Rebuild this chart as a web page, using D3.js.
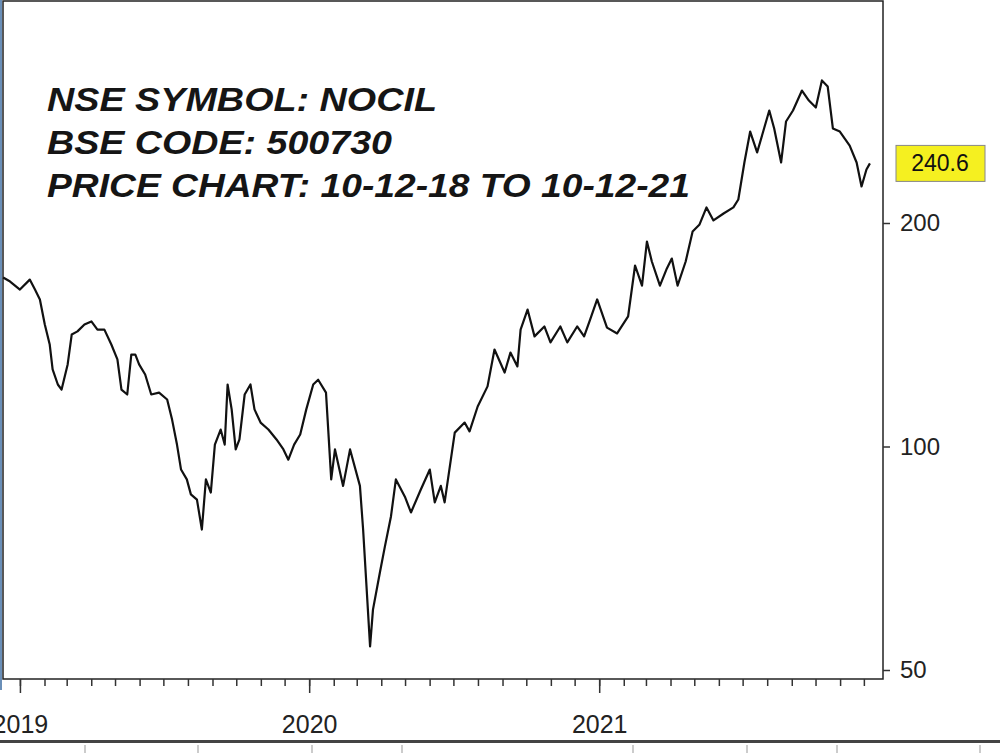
<!DOCTYPE html>
<html><head><meta charset="utf-8">
<script src="https://cdn.jsdelivr.net/npm/d3@7"></script>
<style>body{margin:0;background:#fff}svg{display:block}</style>
</head><body>
<script>
// decimal years and closing prices
const years=[2018.942,2018.966,2019.000,2019.034,2019.052,2019.069,2019.086,2019.103,2019.113,2019.131,2019.144,2019.165,2019.179,2019.199,2019.223,2019.247,2019.268,2019.292,2019.316,2019.337,2019.351,2019.371,2019.385,2019.399,2019.412,2019.433,2019.454,2019.481,2019.509,2019.526,2019.543,2019.557,2019.577,2019.591,2019.612,2019.629,2019.643,2019.660,2019.674,2019.694,2019.708,2019.718,2019.732,2019.746,2019.759,2019.777,2019.797,2019.811,2019.832,2019.859,2019.887,2019.911,2019.928,2019.948,2019.969,2019.990,2020.014,2020.031,2020.058,2020.076,2020.089,2020.117,2020.141,2020.175,2020.186,2020.210,2020.220,2020.244,2020.261,2020.282,2020.299,2020.330,2020.351,2020.385,2020.416,2020.433,2020.454,2020.467,2020.502,2020.536,2020.553,2020.581,2020.615,2020.639,2020.674,2020.694,2020.718,2020.729,2020.753,2020.777,2020.811,2020.832,2020.866,2020.890,2020.924,2020.948,2020.969,2020.993,2021.027,2021.062,2021.100,2021.124,2021.148,2021.165,2021.182,2021.210,2021.234,2021.251,2021.271,2021.299,2021.323,2021.347,2021.371,2021.395,2021.430,2021.464,2021.481,2021.502,2021.522,2021.546,2021.570,2021.588,2021.605,2021.629,2021.646,2021.670,2021.701,2021.725,2021.749,2021.770,2021.790,2021.808,2021.832,2021.866,2021.890,2021.907,2021.924,2021.936];
const prices=[168.9,166.8,162.7,167.8,162.7,157.8,146.0,137.2,127.0,121.2,119.3,129.0,141.5,142.9,146.0,147.4,143.7,143.7,137.2,131.0,119.3,117.5,133.0,133.0,129.0,125.0,117.5,118.2,115.7,108.7,100.6,93.1,90.3,86.2,84.8,77.3,90.3,86.7,100.6,105.4,100.6,121.2,112.2,99.1,102.2,117.5,121.2,112.2,107.7,105.4,102.2,99.1,96.0,100.6,103.8,112.2,121.2,123.0,118.2,90.3,99.1,88.5,99.1,88.5,77.3,53.8,60.3,67.7,73.3,80.5,90.3,85.6,81.5,87.5,93.1,84.1,88.5,84.1,104.4,107.7,104.8,113.2,120.5,135.1,125.8,133.8,128.2,143.7,152.9,140.7,145.1,138.1,145.1,138.1,145.1,140.7,148.3,157.8,144.6,142.0,149.7,175.3,164.7,188.8,177.5,164.7,173.7,179.1,164.7,177.5,194.8,199.1,209.9,201.6,206.0,209.9,215.1,241.3,265.6,248.9,268.1,283.5,268.1,241.3,274.0,283.5,301.6,292.4,286.1,311.2,305.4,268.1,265.6,254.3,241.3,224.0,236.1,240.6];
const yTicks=[50,100,200];
const lastLabel="240.6";
const titleLines=["NSE SYMBOL: NOCIL","BSE CODE: 500730","PRICE CHART: 10-12-18 TO 10-12-21"];

const W=1000,H=753;
const svg=d3.select("body").append("svg").attr("width",W).attr("height",H);
const L=3,R=883,T=1,B=679;
const toDate=y=>{const yr=Math.floor(y);const s=new Date(yr,0,1),e=new Date(yr+1,0,1);return new Date(+s+(y-yr)*(e-s));};
const x=d3.scaleTime().domain([new Date(2018,11,10),new Date(2021,11,10)]).range([2.5,871]);
const y=d3.scaleLog().domain([50,200]).range([670,223]);

svg.append("rect").attr("x",L).attr("y",T).attr("width",R-L).attr("height",B-T).attr("fill","#fff").attr("stroke","#222").attr("stroke-width",1.5);
svg.append("line").attr("x1",1).attr("x2",1).attr("y1",0).attr("y2",690).attr("stroke","#6a8fb8").attr("stroke-width",2);

// title
const tg=svg.append("g").attr("font-family","Liberation Sans, Arial, sans-serif").attr("font-weight","bold").attr("font-style","italic").attr("font-size",34).attr("fill","#151515");
titleLines.forEach((t,i)=>tg.append("text").attr("x",47).attr("y",111+i*43).attr("textLength",i==0?390:(i==1?345:643)).attr("lengthAdjust","spacingAndGlyphs").text(t));

// line
const data=years.map((t,i)=>({d:toDate(t),v:prices[i]}));
svg.append("path").datum(data).attr("fill","none").attr("stroke","#111").attr("stroke-width",2.2).attr("stroke-linejoin","round")
 .attr("d",d3.line().x(d=>x(d.d)).y(d=>y(d.v)));

// right axis
const ya=svg.append("g").attr("transform",`translate(${R},0)`).call(d3.axisRight(y).tickValues(yTicks).tickFormat(d3.format("d")).tickSize(7).tickPadding(10));
ya.select(".domain").remove();
ya.selectAll("line").attr("stroke","#333").attr("stroke-width",1.5);
ya.selectAll("text").attr("font-family","Liberation Sans, Arial, sans-serif").attr("font-size",24).attr("fill","#222");

// last price label
const ly=y(+lastLabel);
svg.append("rect").attr("x",896).attr("y",ly-18).attr("width",89).attr("height",36).attr("fill","#f5f020").attr("stroke","#888");
svg.append("text").attr("x",940).attr("y",ly+8).attr("text-anchor","middle").attr("font-family","Liberation Sans, Arial, sans-serif").attr("font-size",23).attr("fill","#111").text(lastLabel);

// bottom axis: monthly minor ticks, yearly major ticks
const months=d3.timeMonth.range(new Date(2018,11,1),new Date(2021,11,2));
const xa=svg.append("g").attr("transform",`translate(0,${B})`);
xa.call(d3.axisBottom(x).tickValues(months).tickSize(7).tickFormat(""));
xa.select(".domain").remove();
xa.selectAll("line").attr("stroke","#333").attr("stroke-width",1.5);
const yrs=[new Date(2019,0,1),new Date(2020,0,1),new Date(2021,0,1)];
const xb=svg.append("g").attr("transform",`translate(0,${B})`).call(d3.axisBottom(x).tickValues(yrs).tickSize(14).tickPadding(12).tickFormat(d3.timeFormat("%Y")));
xb.select(".domain").remove();
xb.selectAll("line").attr("stroke","#333").attr("stroke-width",1.5);
xb.selectAll("text").attr("font-family","Liberation Sans, Arial, sans-serif").attr("font-size",25).attr("fill","#222").attr("dy","1.1em");

// bottom rule
svg.append("rect").attr("x",0).attr("y",740).attr("width",W).attr("height",3).attr("fill","#444");
[85,198,312,402,633,747,837,980].forEach(px=>svg.append("line").attr("x1",px).attr("x2",px).attr("y1",745).attr("y2",753).attr("stroke","#999"));
</script>
</body></html>
